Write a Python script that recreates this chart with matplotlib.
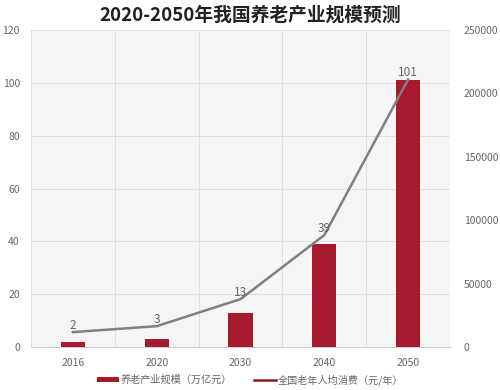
import matplotlib
matplotlib.use("Agg")
import matplotlib.pyplot as plt
from matplotlib.lines import Line2D
from matplotlib.patches import Patch
import numpy as np

plt.rcParams['font.family'] = ['Noto Sans CJK SC', 'DejaVu Sans']

# data
years = ["2016", "2020", "2030", "2040", "2050"]
industry_scale = [2, 3, 13, 39, 101]                    # 万亿元, left axis
per_capita = [11800, 16500, 37800, 88300, 211000]       # 元/年, right axis
bar_labels = ["2", "3", "13", "39", "101"]
left_ticks = [0, 20, 40, 60, 80, 100, 120]
right_ticks = [0, 50000, 100000, 150000, 200000, 250000]

BAR = "#A6192E"
LINE = "#808080"
TXT = "#666666"

fig = plt.figure(figsize=(5, 3.9), dpi=100)
ax = fig.add_axes([0.062, 0.11, 0.838, 0.813])
ax.set_facecolor("#f5f5f5")

x = np.arange(len(years))
ax.bar(x, industry_scale, width=0.29, color=BAR, zorder=3)
ax.set_xlim(-0.5, len(years) - 0.5)
ax.set_ylim(0, 120)
ax.set_yticks(left_ticks)
ax.set_xticks(x)
ax.set_xticklabels(years)
for v in np.arange(-0.5, len(years), 1.0):
    ax.axvline(v, color="#e0e0e0", lw=0.7, zorder=1)
ax.grid(axis="y", color="#e0e0e0", lw=0.7, zorder=1)
ax.tick_params(axis="both", length=0, labelsize=7.5, labelcolor=TXT, pad=8)
for s in ax.spines.values():
    s.set_visible(False)
ax.spines["bottom"].set_visible(True)
ax.spines["bottom"].set_color("#d0d0d0")

ax2 = ax.twinx()
ax2.plot(x, per_capita, color=LINE, lw=1.8, zorder=4)
ax2.set_ylim(0, 250000)
ax2.set_yticks(right_ticks)
ax2.tick_params(axis="y", length=0, labelsize=7.5, labelcolor=TXT, pad=10)
for s in ax2.spines.values():
    s.set_visible(False)
for xi, yi, lab in zip(x, per_capita, bar_labels):
    ax2.annotate(lab, (xi, yi), xytext=(0, 5), textcoords="offset points",
                 ha="center", va="center", fontsize=8.5, color=TXT, zorder=5)

fig.suptitle("2020-2050年我国养老产业规模预测", x=0.5, y=0.985,
             fontsize=13.5, fontweight="bold", color="#222222")

handles = [Patch(facecolor=BAR, edgecolor="none"),
           Line2D([], [], color="#8B1A1A", lw=1.8)]
fig.legend(handles, ["养老产业规模（万亿元）", "全国老年人均消费（元/年）"],
           loc="lower center", bbox_to_anchor=(0.5, -0.012), ncol=2, frameon=False,
           fontsize=7.3, labelcolor=TXT, handlelength=2.2, handleheight=0.5,
           columnspacing=2.2, handletextpad=0.1)

fig.savefig("out.png", dpi=100)
